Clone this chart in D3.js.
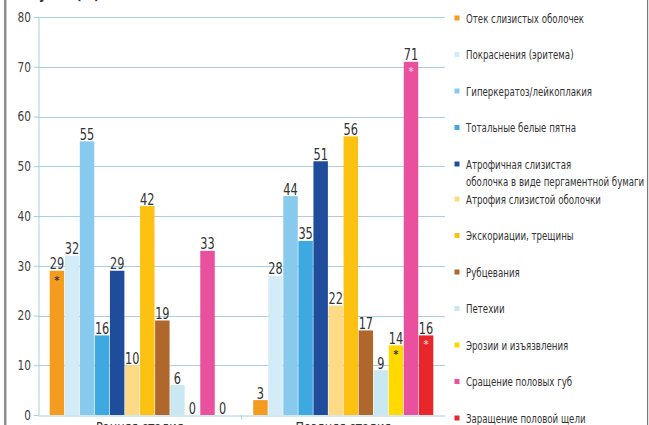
<!DOCTYPE html>
<html>
<head>
<meta charset="utf-8">
<script src="https://cdn.jsdelivr.net/npm/d3@7/dist/d3.min.js"></script>
<style>
  html, body { margin: 0; padding: 0; background: #fff; }
  svg { display: block; }
  text { font-family: "DejaVu Sans Condensed", "Liberation Sans Narrow", "Arial Narrow", sans-serif; }
</style>
</head>
<body>
<svg id="chart" width="649" height="425"></svg>
<script>
// Stages shown on the x axis
const stages = ["Ранняя стадия", "Поздняя стадия"];

// Symptoms (one bar per symptom in each stage)
const symptoms = [
  "Отек слизистых оболочек",
  "Покраснения (эритема)",
  "Гиперкератоз/лейкоплакия",
  "Тотальные белые пятна",
  "Атрофичная слизистая\nоболочка в виде пергаментной бумаги",
  "Атрофия слизистой оболочки",
  "Экскориации, трещины",
  "Рубцевания",
  "Петехии",
  "Эрозии и изъязвления",
  "Сращение половых губ",
  "Заращение половой щели"
];

// Share of patients, %
const earlyValues = [29, 32, 55, 16, 29, 10, 42, 19, 6, 0, 33, 0];
const lateValues  = [3, 28, 44, 35, 51, 22, 56, 17, 9, 14, 71, 16];

// Bars flagged with an asterisk (index into symptoms)
const earlyFlagged = [0];
const lateFlagged  = [9, 10, 11];

// Y axis ticks
const yTicks = [0, 10, 20, 30, 40, 50, 60, 70, 80];

// Palette, one colour per symptom
const palette = ["#F49C1F", "#D4EBF8", "#88C9EE", "#3EA9E1", "#1F4D9B", "#FDDA86",
                 "#FDC112", "#B0672C", "#CAE8F1", "#FFD900", "#E9509D", "#E8262B"];
// Asterisk colour per symptom (dark on light bars, pale on dark ones)
const starColor = ["#3a3a3a", "#3a3a3a", "#3a3a3a", "#3a3a3a", "#fff", "#3a3a3a",
                   "#3a3a3a", "#fff", "#3a3a3a", "#3a3a3a", "#f7c4dd", "#f6b8b4"];

const rows = stages.map((s, i) => ({
  stage: s,
  values: i === 0 ? earlyValues : lateValues,
  flagged: i === 0 ? earlyFlagged : lateFlagged
}));

const svg = d3.select("#chart");
const plot = { left: 38, right: 445, top: 17, bottom: 415 };
const gridColor = "#A8CFE3";
const narrow = 0.84;   // horizontal squeeze for condensed numerals
const legendNarrow = 0.74;

const x0 = d3.scaleBand().domain(stages).range([plot.left, plot.right])
  .paddingInner(0.115).paddingOuter(0.0575);
const x1 = d3.scaleBand().domain(d3.range(symptoms.length)).range([0, x0.bandwidth()])
  .paddingInner(0.04);
const y = d3.scaleLinear().domain([0, 80]).range([plot.bottom, plot.top]);
const color = d3.scaleOrdinal().domain(d3.range(symptoms.length)).range(palette);

// Frame: grey bar on the left, thin rule on the right
svg.append("rect").attr("x", 4).attr("y", 0).attr("width", 2.5).attr("height", 425).attr("fill", "#8e8e8e");
svg.append("rect").attr("x", 647).attr("y", 0).attr("width", 1.2).attr("height", 425).attr("fill", "#777");

// Title, mostly above the visible area
svg.append("text").attr("transform", "translate(14,-1) scale(0.85,1)")
  .attr("font-size", 16).attr("font-weight", "bold").attr("fill", "#333")
  .text("Рисунок (%)");

// Horizontal grid
svg.append("g").selectAll("line").data(yTicks.filter(d => d > 0)).join("line")
  .attr("x1", plot.left).attr("x2", plot.right)
  .attr("y1", d => Math.round(y(d)) + 0.5).attr("y2", d => Math.round(y(d)) + 0.5)
  .attr("stroke", gridColor).attr("stroke-width", 1);

// Y axis
const yAxis = svg.append("g").attr("transform", `translate(${plot.left + 0.5},0)`)
  .call(d3.axisLeft(y).tickValues(yTicks).tickSize(5).tickPadding(4).tickSizeOuter(0));
yAxis.select(".domain").attr("stroke", gridColor);
yAxis.selectAll(".tick line").attr("stroke", gridColor);
yAxis.selectAll(".tick text").attr("font-size", 14).attr("fill", "#444")
  .attr("font-family", "'DejaVu Sans Condensed', sans-serif")
  .attr("transform", `scale(${narrow},1)`);

// X axis
const xAxis = svg.append("g").attr("transform", `translate(0,${plot.bottom + 0.5})`)
  .call(d3.axisBottom(x0).tickSize(0).tickPadding(7).tickSizeOuter(0));
xAxis.select(".domain").attr("stroke", gridColor);
xAxis.selectAll(".tick text").attr("font-size", 14).attr("fill", "#333")
  .attr("font-family", "'DejaVu Sans Condensed', sans-serif")
  .attr("transform", "scale(0.9,1)");
// small ticks at group boundaries
svg.append("g").selectAll("line").data(stages.slice(1)).join("line")
  .attr("x1", d => x0(d) - x0.step() * x0.paddingInner() / 2)
  .attr("x2", d => x0(d) - x0.step() * x0.paddingInner() / 2)
  .attr("y1", plot.bottom).attr("y2", plot.bottom + 4)
  .attr("stroke", gridColor);

// Bars
const groups = svg.append("g").selectAll("g").data(rows).join("g")
  .attr("transform", d => `translate(${x0(d.stage)},0)`);

const cells = groups.selectAll("g.cell")
  .data(d => d.values.map((v, i) => ({ v, i, flagged: d.flagged.includes(i) })))
  .join("g").attr("class", "cell");

cells.append("rect")
  .attr("x", d => x1(d.i))
  .attr("width", x1.bandwidth())
  .attr("y", d => y(d.v))
  .attr("height", d => y(0) - y(d.v))
  .attr("fill", d => color(d.i));

cells.append("text")
  .attr("transform", d => `translate(${x1(d.i) + x1.bandwidth() / 2},${y(d.v) - 1.5}) scale(${narrow},1)`)
  .attr("text-anchor", "middle")
  .attr("font-size", 15).attr("fill", "#333")
  .text(d => d.v);

cells.filter(d => d.flagged).append("text")
  .attr("x", d => x1(d.i) + x1.bandwidth() / 2)
  .attr("y", d => y(d.v) + 13)
  .attr("text-anchor", "middle")
  .attr("font-size", 11).attr("font-weight", "bold")
  .attr("fill", d => starColor[d.i])
  .text("*");

// Legend
const legendY = i => 18 + i * 36.5 - (i >= 5 ? 1.5 : 0);
const legend = svg.append("g").selectAll("g").data(symptoms).join("g")
  .attr("transform", (d, i) => `translate(457,${legendY(i)})`);
legend.append("rect").attr("x", -2.5).attr("y", -2.5).attr("width", 5).attr("height", 5)
  .attr("fill", (d, i) => color(i));
legend.append("text")
  .attr("transform", `translate(9,4.5) scale(${legendNarrow},1)`)
  .attr("font-size", 13).attr("fill", "#333")
  .selectAll("tspan").data(d => d.split("\n")).join("tspan")
  .attr("x", 0).attr("dy", (d, j) => j === 0 ? 0 : 18)
  .text(d => d);
</script>
</body>
</html>
